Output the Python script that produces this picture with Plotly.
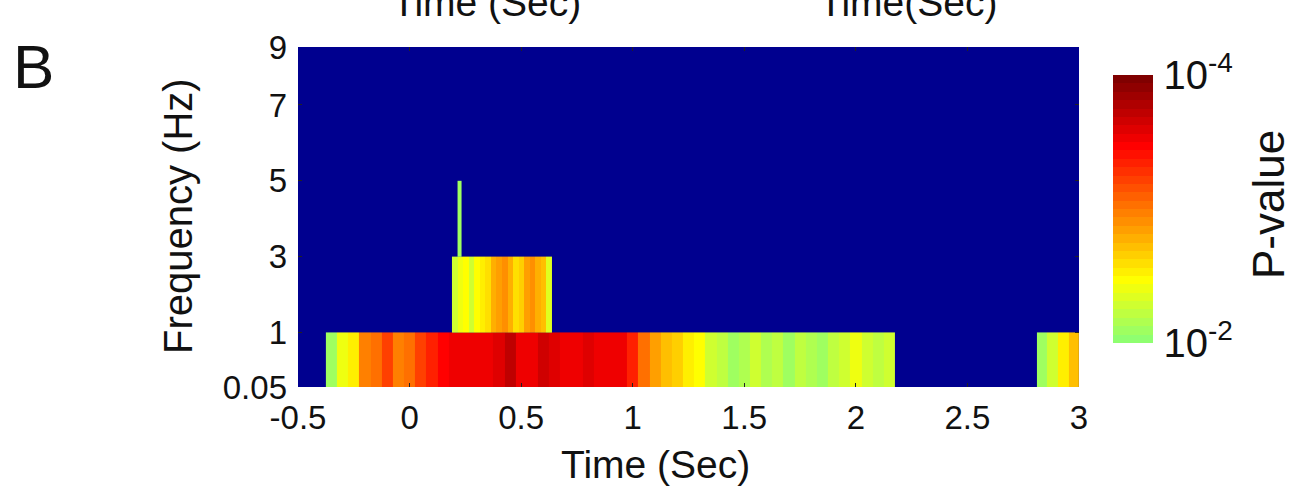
import numpy as np
import plotly.graph_objects as go

# ---- significance values, stored as -log10(p) ----
# 0.05–1 Hz band, 50 ms bins starting at -0.375 s
low_start, low_step = -0.375, 0.05
low_band = [
    2.10, 2.40, 2.55, 2.95, 3.05, 3.20, 2.95, 3.00, 3.20, 3.35,
    3.45, 3.55, 3.50, 3.50, 3.55, 3.60, 3.72, 3.50, 3.50, 3.65,
    3.62, 3.50, 3.50, 3.60, 3.55, 3.50, 3.50, 3.35, 3.05, 2.85,
    2.70, 2.65, 2.55, 2.45, 2.30, 2.20, 2.10, 2.15, 2.25, 2.15,
    2.20, 2.10, 2.20, 2.15, 2.10, 2.20, 2.30, 2.40, 2.25, 2.20,
    2.30,
]
# 0.05–1 Hz band, late cluster up to the end of the epoch
late_span = (2.81, 3.0)
late_band = [2.10, 2.30, 2.50, 2.70]

# 1–3 Hz band, 25 ms bins starting at 0.19 s
mid_start, mid_step = 0.19, 0.025
mid_band = [
    2.30, 2.40, 2.45, 2.25, 2.45, 2.50, 2.60, 2.75, 2.85, 2.90,
    2.80, 2.60, 2.65, 2.85, 2.90, 2.80, 2.70, 2.35,
]

# 3–5 Hz band, single short bin
spike_span = (0.215, 0.232)
spike_band = [2.10]

# ---- axes ----
freq_edges = [0.05, 1, 3, 5, 7, 9]
freq_tick_labels = ["0.05", "1", "3", "5", "7", "9"]
time_ticks = [-0.5, 0, 0.5, 1, 1.5, 2, 2.5, 3]
time_tick_labels = ["-0.5", "0", "0.5", "1", "1.5", "2", "2.5", "3"]
p_ticks = [2, 4]
p_tick_labels = ["10<sup>-2</sup>", "10<sup>-4</sup>"]

Y_LO, Y_HI = -0.44, 8.53
row_edges = list(freq_edges)
row_edges[0], row_edges[-1] = Y_LO, Y_HI

FONT = "Liberation Sans, Arial, sans-serif"


def jet(m=64):
    """MATLAB-style jet colormap, m rows of RGB in [0, 1]."""
    n = int(np.ceil(m / 4))
    u = np.concatenate([np.arange(1, n + 1) / n, np.ones(n - 1), np.arange(n, 0, -1) / n])
    g = int(np.ceil(n / 2)) - (m % 4 == 1) + np.arange(1, len(u) + 1)
    r = g + n
    b = g - n
    J = np.zeros((m, 3))
    for ch, idx in enumerate((r, g, b)):
        ok = (idx >= 1) & (idx <= m)
        J[idx[ok] - 1, ch] = u[ok]
    return J


J = jet(64)
upper = J[32:]
nsteps = len(upper)
colorscale = []
for i, c in enumerate(upper):
    col = "rgb(%d,%d,%d)" % tuple(np.round(c * 255).astype(int))
    colorscale.append([i / nsteps, col])
    colorscale.append([(i + 1) / nsteps, col])
bg_rgb = "rgb(%d,%d,%d)" % tuple(np.round(J[0] * 255).astype(int))

# ---- traces ----
low_edges = list(low_start + low_step * np.arange(len(low_band) + 1))
late_edges = list(np.linspace(late_span[0], late_span[1], len(late_band) + 1))
low_x = low_edges + late_edges
low_z = [low_band + [None] + late_band]

mid_x = list(mid_start + mid_step * np.arange(len(mid_band) + 1))

fig = go.Figure()
fig.add_trace(go.Heatmap(x=low_x, y=row_edges[0:2], z=low_z,
                         coloraxis="coloraxis", hoverinfo="skip"))
fig.add_trace(go.Heatmap(x=mid_x, y=row_edges[1:3], z=[mid_band],
                         coloraxis="coloraxis", hoverinfo="skip"))
fig.add_trace(go.Heatmap(x=list(spike_span), y=row_edges[2:4], z=[spike_band],
                         coloraxis="coloraxis", hoverinfo="skip"))

W, H = 1297, 499
L, R, T, B = 298, 218, 47, 112
pw, ph = W - L - R, H - T - B


def px(x):
    return (x - L) / pw


def py(y):
    return (H - B - y) / ph


tickfont = dict(family=FONT, size=33, color="#111")

fig.update_layout(
    width=W, height=H, autosize=False,
    margin=dict(l=L, r=R, t=T, b=B, pad=0),
    paper_bgcolor="white", plot_bgcolor=bg_rgb,
    font=dict(family=FONT, color="#111"),
    coloraxis=dict(
        colorscale=colorscale, cmin=2, cmax=4,
        colorbar=dict(
            thickness=40, thicknessmode="pixels",
            len=268, lenmode="pixels",
            x=px(1113), xanchor="left", xpad=0,
            y=py(209), yanchor="middle", ypad=0,
            tickvals=p_ticks, ticktext=p_tick_labels,
            ticks="outside", ticklen=3, tickcolor="rgba(0,0,0,0)",
            tickfont=dict(family=FONT, size=40, color="#111"),
            outlinewidth=0,
        ),
    ),
    xaxis=dict(
        range=[-0.5, 3], tickvals=time_ticks, ticktext=time_tick_labels,
        ticks="inside", ticklen=4, tickcolor="#222", mirror="ticks",
        showgrid=False, zeroline=False, showline=False,
        tickfont=tickfont, ticklabelstandoff=8,
    ),
    yaxis=dict(
        range=[Y_LO, Y_HI], tickvals=row_edges, ticktext=freq_tick_labels,
        ticks="inside", ticklen=4, tickcolor="#222", mirror="ticks",
        showgrid=False, zeroline=False, showline=False,
        tickfont=tickfont, ticklabelstandoff=10,
    ),
    showlegend=False,
)

ann = dict(xref="paper", yref="paper", showarrow=False)
fig.add_annotation(text="Frequency (Hz)", x=px(178), y=py(216), textangle=-90,
                   xanchor="center", yanchor="middle",
                   font=dict(family=FONT, size=40, color="#111"), **ann)
fig.add_annotation(text="Time (Sec)", x=px(655), y=py(464),
                   xanchor="center", yanchor="middle",
                   font=dict(family=FONT, size=39, color="#111"), **ann)
fig.add_annotation(text="P-value", x=px(1268), y=py(205), textangle=-90,
                   xanchor="center", yanchor="middle",
                   font=dict(family=FONT, size=44, color="#111"), **ann)
fig.add_annotation(text="B", x=px(33), y=py(66),
                   xanchor="center", yanchor="middle",
                   font=dict(family=FONT, size=62, color="#111"), **ann)
# axis titles of the panel above, cut by the top edge
fig.add_annotation(text="Time (Sec)", x=px(486), y=py(2),
                   xanchor="center", yanchor="middle",
                   font=dict(family=FONT, size=39, color="#111"), **ann)
fig.add_annotation(text="Time(Sec)", x=px(908), y=py(2),
                   xanchor="center", yanchor="middle",
                   font=dict(family=FONT, size=39, color="#111"), **ann)

fig.write_html("out.html")
